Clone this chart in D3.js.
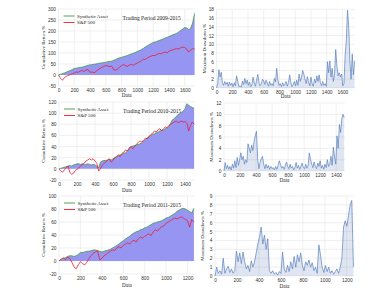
<!DOCTYPE html>
<html>
<head>
<meta charset="utf-8">
<script src="https://cdn.jsdelivr.net/npm/d3@7"></script>
<style>
  body { margin: 0; background: #fff; }
  svg { font-family: "Liberation Serif", serif; }
  .grid line { stroke: #e6e6e6; stroke-width: 0.6; }
  .tick text { fill: #333; font-size: 4.8px; }
</style>
</head>
<body>
<svg id="chart"></svg>
<script>
const xTicks = [0, 200, 400, 600, 800, 1000, 1200, 1400, 1600];

// 2009-2015, one value every 25 days
const synth0915 = [0, 3, 6, 9, 13, 17, 20, 25, 30, 31, 33, 34, 36, 38, 41, 44, 46, 47, 49, 50,
  52, 54, 55, 57, 58, 60, 62, 63, 67, 71, 75, 78, 81, 83, 86, 89, 93, 96, 99, 103,
  107, 111, 116, 121, 127, 133, 138, 143, 148, 150, 153, 157, 160, 164, 168, 171, 175, 179, 183, 186,
  190, 196, 203, 209, 216, 214, 205, 214, 236, 280];
const spx0915 = [0, -15, -24, -12, -6, -2, 2, 5, 8, 14, 12, 18, 20, 16, 23, 25, 12, 14, 10, 16,
  24, 30, 35, 40, 43, 41, 38, 40, 24, 22, 28, 35, 44, 47, 42, 40, 46, 48, 44, 50,
  55, 60, 64, 72, 70, 78, 82, 86, 90, 88, 94, 98, 96, 102, 104, 100, 108, 112, 114, 118,
  120, 118, 124, 127, 125, 118, 104, 114, 120, 117];
// drawdown 2009-2015, one value every 15 days
const dd0915 = [0, 1, 4.2, 2.5, 3.6, 1.2, 0.6, 1.5, 0.8, 1.3, 0.4, 1.4, 0.6, 1.1, 0.3, 1.2, 0.5, 2.8, 1.5, 0.3,
  0.5, 0.2, 1.6, 0.8, 2.2, 1.0, 1.8, 0.6, 1.4, 0.3, 0.8, 2.5, 1.2, 0.4, 1.8, 3.1, 1.2, 0.5, 1.0, 2.0,
  1.6, 0.8, 1.8, 1.2, 0.4, 1.5, 0.6, 1.0, 0.5, 2.2, 1.4, 4.5, 1.8, 0.6, 1.0, 0.3, 1.2, 0.5, 0.9, 1.5,
  0.4, 1.3, 3.0, 1.2, 0.3, 0.8, 1.5, 0.5, 1.8, 0.6, 3.2, 1.5, 2.4, 4.0, 3.2, 2.0, 1.0, 2.6, 1.3, 0.5,
  2.5, 1.0, 0.4, 2.0, 1.2, 2.8, 1.5, 3.0, 1.2, 0.5, 1.5, 0.6, 1.0, 0.4, 6.0, 3.5, 6.2, 2.5, 4.5, 1.5,
  3.2, 8.8, 5.0, 2.8, 3.5, 2.5, 3.2, 0.5, 1.0, 7.5, 11.0, 17.8, 14.0, 6.0, 2.0, 7.8, 3.0, 6.2];

// 2010-2015, one value every 20 days
const synth1015 = [0, 1, 2, 3, 4, 5, 6, 5, 7, 8, 9, 9, 8, 9, 8, 8, 9, 8, 7, 8,
  7, 5, 2, 12, 14, 15, 15, 16, 17, 16, 18, 20, 22, 24, 25, 26, 28, 29, 32, 36,
  40, 41, 42, 43, 44, 45, 47, 50, 53, 56, 58, 60, 62, 63, 65, 66, 68, 69, 70, 72,
  73, 76, 82, 88, 90, 94, 97, 99, 101, 104, 108, 117, 114, 112, 110, 109];
const spx1015 = [0, -4, -6, -2, 2, 5, -6, -10, -8, -3, -1, 2, 5, 8, 10, 14, 16, 18, 16, 18,
  14, 10, -4, 0, 6, 10, 12, 16, 18, 12, 15, 20, 22, 25, 22, 28, 30, 34, 32, 38,
  40, 36, 40, 44, 48, 50, 48, 52, 55, 54, 58, 62, 64, 68, 66, 70, 72, 68, 72, 75,
  74, 78, 80, 82, 84, 86, 83, 84, 86, 84, 85, 82, 68, 78, 84, 80];
// drawdown 2010-2015, every 15 days
const dd1015 = [0, 1.5, 0.4, 1.0, 0.3, 0.8, 0.2, 1.2, 0.5, 1.8, 0.6, 2.4, 1.0, 2.0, 3.2, 2.0, 2.6, 1.2, 2.0, 1.5,
  4.8, 4.0, 3.2, 4.6, 3.6, 5.2, 6.2, 7.0, 2.2, 0.4, 1.5, 2.2, 2.6, 1.2, 0.4, 1.2, 0.5, 1.0, 0.3, 0.8,
  0.4, 0.6, 0.2, 0.8, 0.3, 1.0, 1.8, 1.2, 0.5, 0.8, 0.3, 1.0, 1.6, 0.8, 0.4, 1.2, 0.5, 0.8, 0.2, 0.6,
  1.5, 0.5, 1.0, 0.3, 0.8, 1.4, 0.6, 0.4, 1.2, 0.5, 1.0, 3.2, 2.0, 1.2, 0.6, 1.6, 0.8, 0.4, 1.4, 0.8,
  1.8, 0.5, 1.0, 0.3, 1.2, 0.6, 2.0, 0.8, 1.2, 2.6, 1.0, 4.2, 2.5, 1.2, 6.2, 4.0, 8.2, 6.8, 9.2, 10.0, 9.4];

// 2011-2015, every 20 days
const synth1115 = [0, 2, 4, 5, 7, 8, 8, 7, 8, 10, 13, 13, 14, 15, 15, 16, 17, 17, 16, 15,
  14, 15, 16, 17, 18, 20, 22, 24, 26, 29, 31, 34, 36, 38, 41, 43, 45, 46, 48, 49,
  51, 52, 54, 56, 58, 59, 60, 61, 62, 64, 66, 67, 69, 71, 73, 76, 78, 80, 81, 80,
  78, 76, 74, 81];
const spx1115 = [0, 3, 5, 2, 6, 4, -2, -9, -12, -6, -1, -4, -6, -2, 4, 8, 12, 14, 16, 2,
  4, 8, 10, 13, 15, 17, 16, 20, 22, 20, 24, 26, 28, 26, 30, 32, 29, 34, 37, 35,
  38, 40, 42, 39, 45, 48, 46, 50, 53, 54, 58, 60, 62, 64, 66, 65, 66, 68, 66, 64,
  62, 52, 64, 60];
// drawdown 2011-2015, every 15 days
const dd1115 = [0, 1.0, 0.3, 0.6, 0.2, 2.0, 0.3, 0.8, 1.1, 0.4, 0.8, 0.3, 0.6, 2.8, 1.6, 2.6, 1.4, 2.7, 1.6, 0.8,
  1.2, 0.5, 1.7, 1.0, 1.6, 2.6, 3.6, 4.4, 5.5, 3.6, 4.6, 3.0, 4.2, 0.6, 0.3, 0.6, 0.2, 0.4, 0.1, 0.5,
  0.3, 2.7, 0.8, 0.4, 1.2, 0.5, 1.6, 0.8, 2.2, 1.0, 2.4, 1.6, 2.6, 1.2, 0.6, 1.6, 1.2, 1.8, 1.0, 1.5,
  0.6, 1.0, 0.3, 3.5, 2.4, 1.0, 0.4, 1.2, 0.5, 1.0, 0.3, 0.6, 0.2, 0.5, 0.8, 0.3, 1.0, 2.0, 5.5, 6.2,
  5.6, 6.8, 8.0, 8.5, 1.0];

const returnTicks = {
  p0915: [-50, 0, 50, 100, 150, 200, 250, 300],
  p1015: [-20, 0, 20, 40, 60, 80, 100, 120],
  p1115: [-20, 0, 20, 40, 60, 80, 100]
};
const ddTicks = {
  p0915: [0, 2, 4, 6, 8, 10, 12, 14, 16, 18],
  p1015: [0, 2, 4, 6, 8, 10, 12],
  p1115: [0, 1, 2, 3, 4, 5, 6, 7, 8, 9]
};

const svg = d3.select('#chart').attr('width', 387).attr('height', 290);

class Panel {
  constructor(_config) {
    this.config = _config;
    this.initVis();
  }

  initVis() {
    let vis = this;
    const c = vis.config;
    vis.width = c.right - c.left;
    vis.height = c.bottom - c.top;

    vis.xScale = d3.scaleLinear().domain([0, c.xMax]).range([0, vis.width]);
    vis.yScale = d3.scaleLinear().domain(c.yDomain).range([vis.height, 0]);

    vis.chart = svg.append('g')
      .attr('transform', `translate(${c.left},${c.top})`);

    // grid lines
    vis.chart.append('g')
      .attr('class', 'grid')
      .selectAll('line')
      .data(xTicks.filter(d => d <= c.xMax))
      .join('line')
      .attr('x1', d => vis.xScale(d)).attr('x2', d => vis.xScale(d))
      .attr('y1', 0).attr('y2', vis.height);
    vis.chart.append('g')
      .attr('class', 'grid')
      .selectAll('line')
      .data(c.yTicks)
      .join('line')
      .attr('x1', 0).attr('x2', vis.width)
      .attr('y1', d => vis.yScale(d)).attr('y2', d => vis.yScale(d));

    vis.xAxis = d3.axisBottom(vis.xScale)
      .tickValues(xTicks.filter(d => d <= c.xMax))
      .tickFormat(d => String(d))
      .tickSize(0).tickPadding(2.5);
    vis.yAxis = d3.axisLeft(vis.yScale)
      .tickValues(c.yTicks)
      .tickFormat(d => String(d))
      .tickSize(0).tickPadding(2.5);

    vis.chart.append('g')
      .attr('transform', `translate(0,${vis.height})`)
      .call(vis.xAxis)
      .call(g => g.select('.domain').remove());
    vis.chart.append('g')
      .call(vis.yAxis)
      .call(g => g.select('.domain').remove());

    vis.chart.append('text')
      .attr('x', vis.width / 2)
      .attr('y', vis.height + c.xLabelOffset)
      .attr('text-anchor', 'middle')
      .style('font-size', '5.2px')
      .style('fill', '#222')
      .text('Data');

    vis.chart.append('text')
      .attr('transform', `translate(${-c.yLabelOffset},${vis.height / 2}) rotate(-90)`)
      .attr('text-anchor', 'middle')
      .style('font-size', '5px')
      .style('fill', '#222')
      .text(c.yLabel);
  }

  renderReturns(synth, spx, step, period) {
    let vis = this;
    const pts = synth.map((v, i) => ({ x: i * step, s: v, p: spx[i] }));

    const area = d3.area()
      .x(d => vis.xScale(d.x))
      .y0(vis.yScale(0))
      .y1(d => vis.yScale(d.s));
    const lineS = d3.line().x(d => vis.xScale(d.x)).y(d => vis.yScale(d.s));
    const lineP = d3.line().x(d => vis.xScale(d.x)).y(d => vis.yScale(d.p));

    vis.chart.append('path').datum(pts)
      .attr('d', area)
      .style('fill', '#9696f2');
    vis.chart.append('path').datum(pts)
      .attr('d', lineS)
      .style('fill', 'none').style('stroke', '#3d9a48').style('stroke-width', 0.8);
    vis.chart.append('path').datum(pts)
      .attr('d', lineP)
      .style('fill', 'none').style('stroke', '#ee1c2c').style('stroke-width', 0.8);

    // legend
    const lg = vis.chart.append('g').attr('transform', 'translate(5,7)');
    [['Synthetic Asset', '#3d9a48'], ['S&P 500', '#ee1c2c']].forEach((d, i) => {
      lg.append('line')
        .attr('x1', 0).attr('x2', 11)
        .attr('y1', i * 6.5).attr('y2', i * 6.5)
        .style('stroke', d[1]).style('stroke-width', 0.9);
      lg.append('text')
        .attr('x', 13.5).attr('y', i * 6.5 + 1.8)
        .style('font-size', '5px').style('fill', '#222')
        .text(d[0]);
    });

    vis.chart.append('text')
      .attr('x', 64).attr('y', 11)
      .style('font-size', '5.5px').style('fill', '#222')
      .text(period);
  }

  renderDrawdown(dd, step) {
    let vis = this;
    const pts = dd.map((v, i) => ({ x: i * step, v: v }));
    const area = d3.area()
      .x(d => vis.xScale(d.x))
      .y0(vis.yScale(0))
      .y1(d => vis.yScale(d.v));
    const line = d3.line().x(d => vis.xScale(d.x)).y(d => vis.yScale(d.v));

    vis.chart.append('path').datum(pts)
      .attr('d', area)
      .style('fill', 'rgba(76,114,176,0.18)');
    vis.chart.append('path').datum(pts)
      .attr('d', line)
      .style('fill', 'none').style('stroke', '#5a7fbf').style('stroke-width', 0.7);
  }
}

const ret1 = new Panel({ left: 58.5, right: 195, top: 9, bottom: 86, xMax: 1730,
  yDomain: [-50, 300], yTicks: returnTicks.p0915, yLabel: 'Cumulative Return %',
  xLabelOffset: 11, yLabelOffset: 14 });
ret1.renderReturns(synth0915, spx0915, 25, 'Trading Period 2009-2015');

const dd1 = new Panel({ left: 216.5, right: 355, top: 9.3, bottom: 88, xMax: 1760,
  yDomain: [0, 18], yTicks: ddTicks.p0915, yLabel: 'Maximum Drawdown %',
  xLabelOffset: 10.5, yLabelOffset: 11 });
dd1.renderDrawdown(dd0915, 15);

const ret2 = new Panel({ left: 59, right: 195, top: 102, bottom: 180, xMax: 1510,
  yDomain: [-20, 120], yTicks: returnTicks.p1015, yLabel: 'Cumulative Return %',
  xLabelOffset: 11.5, yLabelOffset: 14 });
ret2.renderReturns(synth1015, spx1015, 20, 'Trading Period 2010-2015');

const dd2 = new Panel({ left: 224, right: 345, top: 103, bottom: 171, xMax: 1510,
  yDomain: [0, 12], yTicks: ddTicks.p1015, yLabel: 'Maximum Drawdown %',
  xLabelOffset: 10.5, yLabelOffset: 11 });
dd2.renderDrawdown(dd1015, 15);

const ret3 = new Panel({ left: 59, right: 195, top: 196, bottom: 274, xMax: 1270,
  yDomain: [-20, 100], yTicks: returnTicks.p1115, yLabel: 'Cumulative Return %',
  xLabelOffset: 13, yLabelOffset: 14 });
ret3.renderReturns(synth1115, spx1115, 20, 'Trading Period 2011-2015');

const dd3 = new Panel({ left: 215, right: 354, top: 196, bottom: 276, xMax: 1265,
  yDomain: [0, 9], yTicks: ddTicks.p1115, yLabel: 'Maximum Drawdown %',
  xLabelOffset: 11.5, yLabelOffset: 11 });
dd3.renderDrawdown(dd1115, 15);
</script>
</body>
</html>
